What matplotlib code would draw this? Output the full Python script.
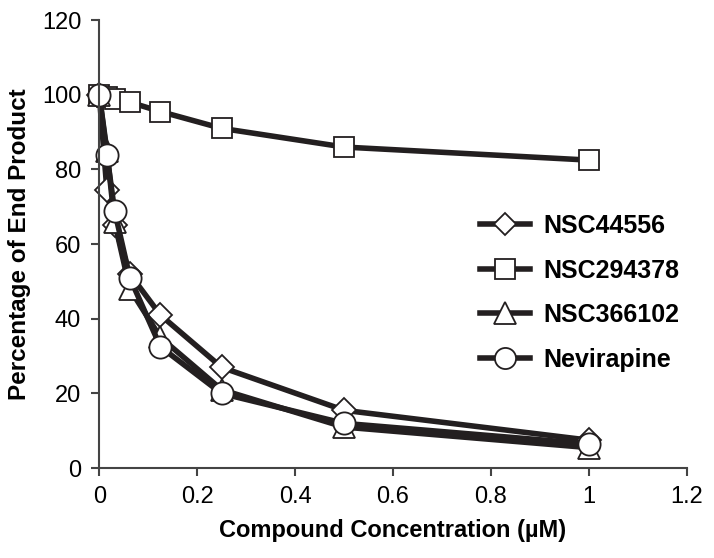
import matplotlib.pyplot as plt

plt.rcParams['font.family'] = ['Liberation Sans', 'DejaVu Sans']

conc = [0, 0.0156, 0.03125, 0.0625, 0.125, 0.25, 0.5, 1]
nsc44556 = [100, 74.5, 65, 52, 41, 27, 15.5, 7.5]
nsc294378 = [100, 99.5, 99, 98, 95.5, 91, 86, 82.5]
nsc366102 = [100, 85, 66, 48, 35, 21, 11, 5.5]
nevirapine = [100, 84, 69, 51, 32.5, 20, 12, 6.5]

labels = ['NSC44556', 'NSC294378', 'NSC366102', 'Nevirapine']
markers = ['D', 's', '^', 'o']
sizes = [12, 14.5, 16, 16]
xticks = [0, 0.2, 0.4, 0.6, 0.8, 1, 1.2]
xtick_labels = ['0', '0.2', '0.4', '0.6', '0.8', '1', '1.2']
yticks = [0, 20, 40, 60, 80, 100, 120]

fig = plt.figure(figsize=(7.14, 5.58), dpi=100)
ax = fig.add_axes([0.139, 0.161, 0.823, 0.803])

line_col = '#231f20'
for ys, lab, m, ms in zip([nsc44556, nsc294378, nsc366102, nevirapine], labels, markers, sizes):
    ax.plot(conc, ys, color=line_col, lw=4, marker=m, markersize=ms,
            markerfacecolor='white', markeredgecolor=line_col, markeredgewidth=1.3,
            label=lab, clip_on=False)

ax.set_xlim(0, 1.2)
ax.set_ylim(0, 120)
ax.set_xticks(xticks)
ax.set_xticklabels(xtick_labels)
ax.set_yticks(yticks)
for s in ['top', 'right']:
    ax.spines[s].set_visible(False)
for s in ['left', 'bottom']:
    ax.spines[s].set_color('#444444')
    ax.spines[s].set_linewidth(1.5)
ax.tick_params(direction='out', length=6, width=1.5, color='#444444', labelsize=17, pad=7)

ax.set_xlabel('Compound Concentration (µM)', fontsize=17, fontweight='bold', labelpad=8)
ax.set_ylabel('Percentage of End Product', fontsize=17.5, fontweight='bold', labelpad=8)

# legend placed in figure coords (top-left corner of first handle)
leg = fig.legend(loc='upper left', bbox_to_anchor=(480 / 714, 1 - 214 / 558),
                 bbox_transform=fig.transFigure, frameon=False, borderpad=0, borderaxespad=0,
                 prop={'weight': 'bold', 'size': 18}, handlelength=2.0, handletextpad=0.55,
                 labelspacing=0.82, markerscale=0.95)

fig.savefig('out.png', dpi=100)
